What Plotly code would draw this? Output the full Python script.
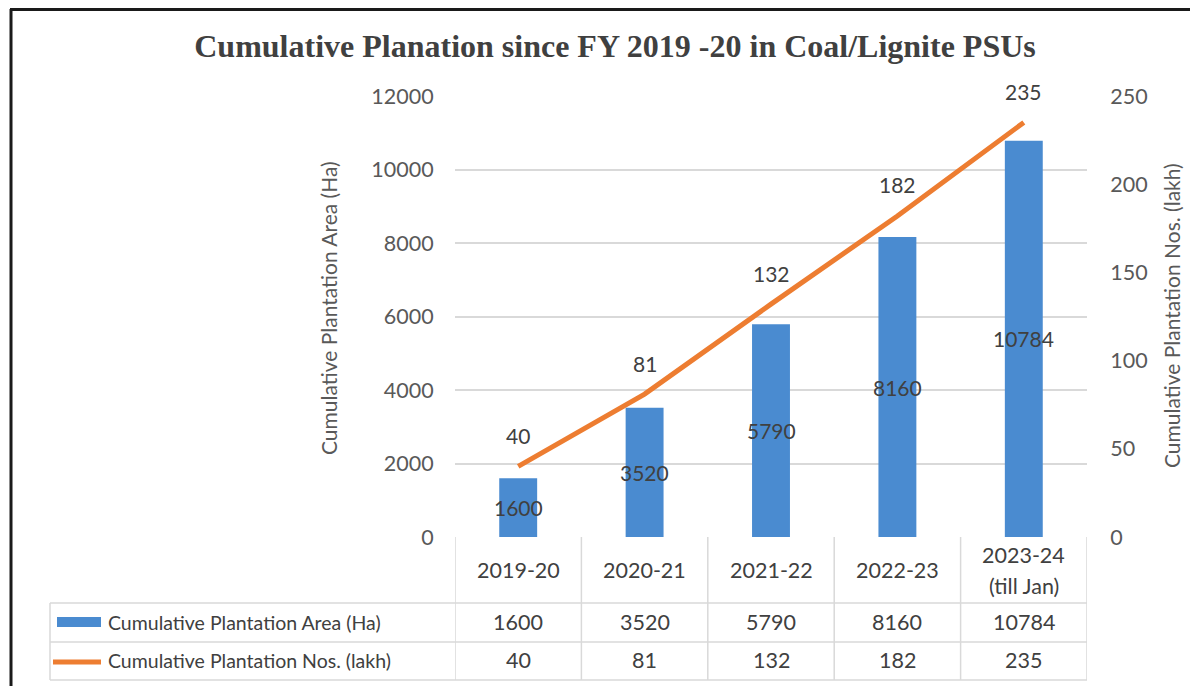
import plotly.graph_objects as go

# ---- data ----
categories = ["2019-20", "2020-21", "2021-22", "2022-23", "2023-24<br>(till Jan)"]
area_ha = [1600, 3520, 5790, 8160, 10784]
nos_lakh = [40, 81, 132, 182, 235]
area_name = "Cumulative Plantation Area (Ha)"
nos_name = "Cumulative Plantation Nos. (lakh)"
title_text = "Cumulative Planation since FY 2019 -20 in Coal/Lignite PSUs"

OFF = 8  # page body margin
W, H = 1198 - OFF, 686 - OFF
L, R, T, B = 455 - OFF, 1087 - OFF, 96 - OFF, 537 - OFF  # plot area in figure pixels


def px(x):
    return (x - OFF - L) / (R - L)


def py(y):
    return (B - (y - OFF)) / (B - T)


FONT = "Lato"
TXT = "#404040"
AX = "#595959"
GRID = "#d9d9d9"
BLUE = "#4a8bd0"
ORANGE = "#ED7D31"

idx = list(range(len(categories)))
n = len(categories)

fig = go.Figure()
fig.add_trace(go.Bar(x=idx, y=area_ha, name=area_name, marker=dict(color=BLUE, line=dict(width=0)),
                     width=0.30, yaxis="y", showlegend=False, hoverinfo="skip"))
fig.add_trace(go.Scatter(x=idx, y=nos_lakh, name=nos_name, mode="lines",
                         line=dict(color=ORANGE, width=5), yaxis="y2", showlegend=False))

C = dict(xanchor="center", yanchor="middle", showarrow=False)
ann = []
# bar labels (centered in bar)
for i, v in zip(idx, area_ha):
    ann.append(dict(x=i, y=v / 2, xref="x", yref="y", text=str(v),
                    font=dict(family=FONT, size=21, color=TXT), **C))
# line labels (above points)
for i, v in zip(idx, nos_lakh):
    ann.append(dict(x=i, y=v, xref="x", yref="y2", text=str(v), yshift=31,
                    font=dict(family=FONT, size=21, color=TXT), **C))

# axis titles
ann.append(dict(x=px(328), y=py(308), xref="paper", yref="paper", text=area_name, textangle=-90,
                font=dict(family=FONT, size=21, color=AX), **C))
ann.append(dict(x=px(1171), y=py(316), xref="paper", yref="paper", text=nos_name, textangle=-90,
                font=dict(family=FONT, size=21, color=AX), **C))

# data table text
row_y = [py(622), py(660)]
TF = dict(family=FONT, size=21.5, color=TXT)
for i, c in zip(idx, categories):
    lines = c.split("<br>")
    if len(lines) == 1:
        ann.append(dict(x=i, y=py(570), xref="x", yref="paper", text=lines[0], font=TF, **C))
    else:
        for ln, yy in zip(lines, [555, 586]):
            ann.append(dict(x=i, y=py(yy), xref="x", yref="paper", text=ln, font=TF, **C))
    ann.append(dict(x=i, y=row_y[0], xref="x", yref="paper", text=str(area_ha[i]), font=TF, **C))
    ann.append(dict(x=i, y=row_y[1], xref="x", yref="paper", text=str(nos_lakh[i]), font=TF, **C))
ann.append(dict(x=px(106), y=row_y[0], xref="paper", yref="paper", text=area_name, showarrow=False,
                xanchor="left", yanchor="middle", font=dict(family=FONT, size=19.5, color=TXT)))
ann.append(dict(x=px(106), y=row_y[1], xref="paper", yref="paper", text=nos_name, showarrow=False,
                xanchor="left", yanchor="middle", font=dict(family=FONT, size=19.5, color=TXT)))

shapes = []
# vertical table lines at category boundaries
for k in range(n + 1):
    shapes.append(dict(type="line", xref="x", yref="paper", x0=k - 0.5, x1=k - 0.5,
                       y0=py(537), y1=py(680), line=dict(color=GRID, width=1.5)))
# horizontal lines
for yy in [603, 642, 680]:
    shapes.append(dict(type="line", xref="paper", yref="paper", x0=px(50), x1=1, y0=py(yy), y1=py(yy),
                       line=dict(color=GRID, width=1.5)))
shapes.append(dict(type="line", xref="paper", yref="paper", x0=px(50), x1=px(50), y0=py(603), y1=py(680),
                   line=dict(color=GRID, width=1.5)))
# legend keys
shapes.append(dict(type="rect", xref="paper", yref="paper", x0=px(57), x1=px(101), y0=py(627), y1=py(617),
                   fillcolor=BLUE, line=dict(width=0)))
shapes.append(dict(type="line", xref="paper", yref="paper", x0=px(53), x1=px(101), y0=py(662), y1=py(662),
                   line=dict(color=ORANGE, width=5)))
# outer frame (left and top)
shapes.append(dict(type="line", xref="paper", yref="paper", x0=px(11), x1=px(11), y0=py(9), y1=py(700),
                   line=dict(color="#1a1a1a", width=3)))
shapes.append(dict(type="line", xref="paper", yref="paper", x0=px(10), x1=px(1210), y0=py(9.5), y1=py(9.5),
                   line=dict(color="#1a1a1a", width=3)))

fig.update_layout(
    width=W, height=H,
    margin=dict(l=L, r=W - R, t=T, b=H - B),
    paper_bgcolor="white", plot_bgcolor="white",
    title=dict(text="<b>" + title_text + "</b>", xref="container", yref="container",
               x=(615 - OFF) / W, y=1 - (46 - OFF) / H, xanchor="center", yanchor="middle",
               font=dict(family="Liberation Serif", size=32, color="#404040")),
    xaxis=dict(range=[-0.5, n - 0.5], showticklabels=False, showgrid=False, zeroline=False,
               showline=False, ticks=""),
    yaxis=dict(range=[0, 12000], dtick=2000, tickformat="d", showgrid=True, gridcolor=GRID, gridwidth=1.5,
               zeroline=False, showline=False, ticks="outside", ticklen=16,
               tickcolor="rgba(0,0,0,0)", tickfont=dict(family=FONT, size=21.5, color=AX)),
    yaxis2=dict(range=[0, 250], dtick=50, tickformat="d", overlaying="y", side="right", showgrid=False,
                zeroline=False, showline=False, ticks="outside", ticklen=18,
                tickcolor="rgba(0,0,0,0)", tickfont=dict(family=FONT, size=21.5, color=AX)),
    annotations=ann, shapes=shapes,
)

fig.write_html("out.html")
